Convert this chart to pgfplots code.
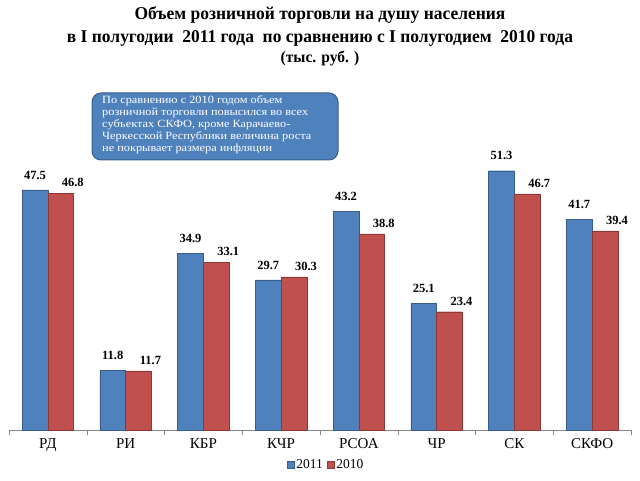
\documentclass[border=0pt]{standalone}
\usepackage{pgfplots}
\pgfplotsset{compat=1.18}
\usepackage{fontspec}
\setmainfont{Liberation Serif}
\newfontfamily\titlefont[FakeStretch=0.97]{Liberation Serif}
\newfontfamily\boxfont[FakeStretch=1.12]{Liberation Serif}
\definecolor{cblue}{HTML}{4F81BD}
\definecolor{cred}{HTML}{C0504D}
\definecolor{cblueD}{HTML}{385D8A}
\definecolor{credD}{HTML}{8C3836}
\definecolor{axgray}{HTML}{868686}
\begin{document}
\begin{tikzpicture}[x=1pt,y=1pt]
\path[use as bounding box] (0,0) rectangle (640,480);
% title
\node[font=\titlefont\bfseries\fontsize{18}{18}\selectfont] at (320,465) {Объем розничной торговли на душу населения};
\node[font=\titlefont\bfseries\fontsize{18}{18}\selectfont] at (320,442) {в I полугодии\ \ 2011 года\ \ по сравнению с I полугодием\ \ 2010 года};
\node[font=\titlefont\bfseries\fontsize{16}{16}\selectfont] at (320,421) {(тыс. руб. )};
\begin{axis}[
  at={(9pt,50pt)}, anchor=south west,
  scale only axis, width=622pt, height=278pt,
  xmin=-0.5, xmax=7.5, ymin=0, ymax=55,
  axis y line=none, axis x line*=bottom,
  axis line style={axgray},
  xtick={-0.5,0.5,...,7.5},
  x tick label as interval,
  xticklabels={РД,РИ,КБР,КЧР,РСОА,ЧР,СК,СКФО},
  xtick style={axgray, thin},
  tick align=center, major tick length=5pt,
  x tick label style={font=\fontsize{15}{15}\selectfont, yshift=0pt},
  ybar=0pt, bar width=25.8pt,
  clip=false,
  nodes near coords,
  /pgf/number format/assume math mode=true,
  /pgf/number format/.cd, fixed, fixed zerofill, precision=1, /pgfplots/.cd,
  every node near coord/.append style={font=\bfseries\fontsize{12.5}{12.5}\selectfont, text=black},
  legend columns=2,
  legend style={at={(axis description cs:0.51,-0.09)}, anchor=north, draw=none, fill=none,
    font=\fontsize{13.5}{13.5}\selectfont, /tikz/every even column/.append style={column sep=2pt}},
  legend image code/.code={\draw[#1] (0pt,-3.5pt) rectangle (7pt,3.5pt);},
]
\addplot[fill=cblue, draw=cblueD, nodes near coords style={yshift=7pt}] coordinates {
 (0,47.5) (1,11.8) (2,34.9) (3,29.7) (4,43.2) (5,25.1) (6,51.3) (7,41.7)};
\addplot[fill=cred, draw=credD, nodes near coords style={yshift=3pt, xshift=12pt}] coordinates {
 (0,46.8) (1,11.7) (2,33.1) (3,30.3) (4,38.8) (5,23.4) (6,46.7) (7,39.4)};
\legend{2011,2010}
\end{axis}
% callout
\draw[fill=cblue, draw=cblueD, line width=1pt, rounded corners=9pt] (92,320) rectangle (338,387);
\node[anchor=north west, inner sep=0pt, text=white, align=left,
  font=\boxfont\fontsize{11}{12}\selectfont] at (102,385) {По сравнению с 2010 годом объем\\розничной торговли повысился во всех\\субъектах СКФО, кроме Карачаево-\\Черкесской Республики величина роста\\не покрывает размера инфляции};
\end{tikzpicture}
\end{document}
